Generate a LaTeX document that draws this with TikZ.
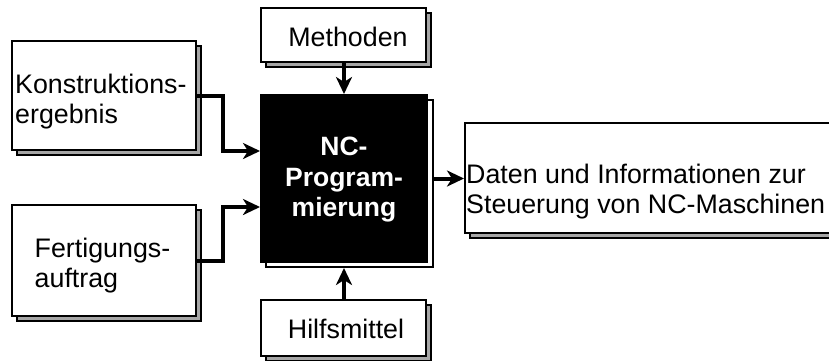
\documentclass[tikz,border=0pt]{standalone}
\usepackage{fontspec}
\setmainfont{Liberation Sans}
\usetikzlibrary{arrows.meta}
\tikzset{
  boxnode/.style={draw=black, line width=2pt, fill=white, inner sep=0pt, minimum width=#1},
  shadowbox/.style={draw=black, line width=2pt, fill=black!35},
  arr/.style={line width=4pt, -{Stealth[length=17pt, width=16pt, inset=5pt]}},
  txt/.style={inner sep=0pt, font=\fontsize{26.8}{30}\selectfont},
}
\begin{document}
\begin{tikzpicture}[x=1pt,y=1pt]
\path[use as bounding box, clip] (0,0) rectangle (829,-360);
% shadows
\draw[shadowbox] (17,-46) rectangle (201,-155);
\draw[shadowbox] (17,-210) rectangle (201,-321);
\draw[shadowbox] (266,-13) rectangle (431,-67);
\draw[draw=black, line width=2pt, fill=white] (266,-100) rectangle (433,-267);
\draw[shadowbox] (266,-305) rectangle (431,-361);
\draw[shadowbox] (470,-128) rectangle (880,-238);
% boxes
\node[boxnode=184pt, minimum height=109pt] (ko) at (104,-95.5) {};
\node[boxnode=184pt, minimum height=111pt] (fe) at (104,-260.5) {};
\node[boxnode=165pt, minimum height=54pt] (me) at (343.5,-35) {};
\node[boxnode=166pt, minimum height=167pt, fill=black] (nc) at (344,-178.5) {};
\node[boxnode=165pt, minimum height=56pt] (hi) at (343.5,-328) {};
\node[boxnode=410pt, minimum height=110pt, anchor=west] (da) at (464,-178) {};
% texts
\node[txt, align=left, anchor=north west] (kot) at (15,-74) {Konstruktions-\\ergebnis};
\node[txt, align=left, anchor=north west] (fet) at (34.5,-238) {Fertigungs-\\auftrag};
\node[txt, align=center, anchor=north] (met) at (348,-26.5) {Methoden};
\node[txt, align=center, anchor=north, text=white, font=\fontsize{26.5}{30.5}\selectfont\bfseries] (nct) at (344,-137) {NC-\\Program-\\mierung};
\node[txt, align=center, anchor=north] (hit) at (346,-319) {Hilfsmittel};
\node[txt, align=left, anchor=north west] (dat) at (466,-163.5) {Daten und Informationen zur\\Steuerung von NC-Maschinen};
% connectors
\coordinate (bx) at (223,0);
\draw[arr] (ko.east) -- (ko.east -| bx) |- ([yshift=27.5pt]nc.west);
\draw[arr] (fe.east) -- (fe.east -| bx) |- ([yshift=-28.5pt]nc.west);
\draw[arr] (me.south -| nc.north) -- (nc.north);
\draw[arr] (hi.north -| nc.south) -- ([yshift=-5pt]nc.south);
\draw[arr] ([xshift=6pt]nc.east) -- (da.west |- nc.east);
\end{tikzpicture}
\end{document}
